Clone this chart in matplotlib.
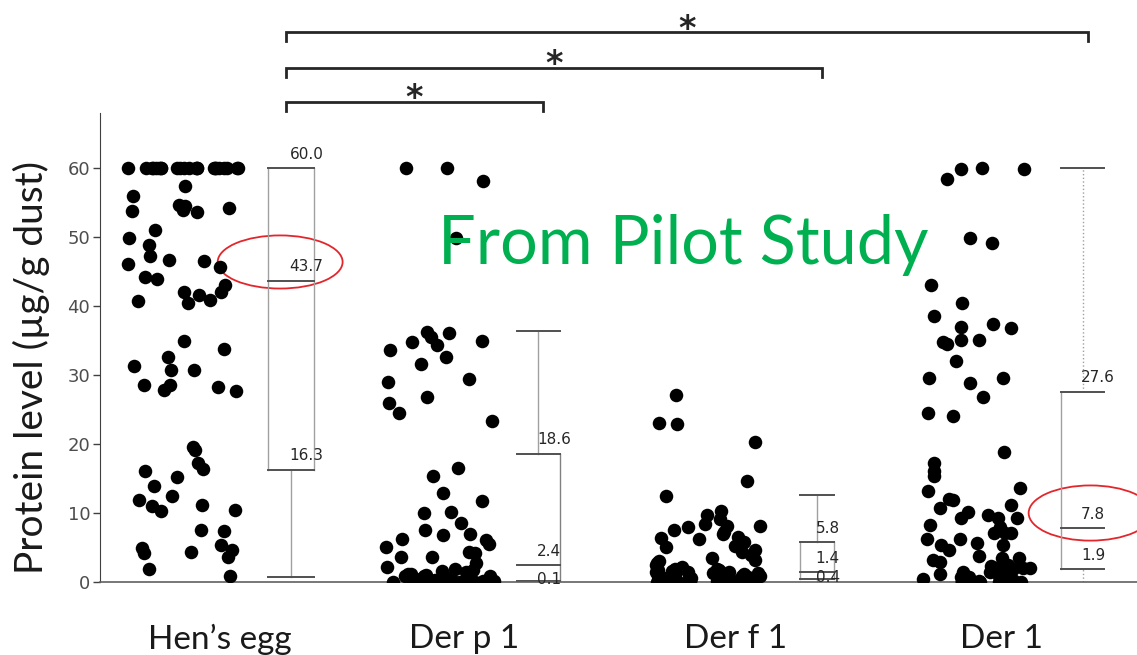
import numpy as np
import matplotlib
matplotlib.use("Agg")
import matplotlib.pyplot as plt
from matplotlib.patches import Ellipse

# ---- data ----
categories = ["Hen\u2019s egg", "Der p 1", "Der f 1", "Der 1"]

hens_egg = [60, 60, 60, 60, 60, 60, 60, 60, 60, 60, 60, 60, 60, 60, 60, 60, 60, 60, 60, 60, 60, 60, 60,
            56.0, 53.8, 57.4, 54.7, 54.2, 53.6, 54.5, 53.9, 51.1, 49.9, 48.8, 46.6, 47.2, 46.7, 46.1,
            45.7, 44.2, 44.0, 43.1, 42.0, 42.0, 41.6, 40.9, 40.7, 40.4, 35.0, 33.8, 32.6, 30.7, 31.3,
            30.7, 27.9, 28.5, 28.3, 28.5, 27.7, 19.6, 19.2, 17.2, 16.4, 16.1, 15.2, 13.9, 12.5, 11.9,
            10.4, 11.0, 11.1, 10.3, 7.4, 7.6, 4.9, 5.3, 4.7, 3.6, 4.3, 4.2, 1.9, 0.8]
der_p1 = [60.0, 60.0, 58.1, 49.9, 36.1, 36.2, 35.5, 34.8, 33.6, 35.0, 34.3, 32.6, 31.6, 29.4, 29.0,
          26.8, 25.9, 24.5, 23.4, 16.5, 15.3, 12.9, 11.7, 10.0, 10.2, 8.6, 7.5, 6.8, 7.0, 6.1, 6.2,
          5.5, 5.1, 4.4, 4.2, 3.6, 3.6, 2.8,
          2.2, 1.9, 1.7, 1.6, 1.5, 1.2, 1.1, 1.0, 0.9, 0.8, 0.8, 0.6, 0.5, 0.4, 0.3, 0.3, 0.2, 0.2, 0.2,
          0.1, 0.1, 0.1, 0.1, 0.1, 0, 0, 0, 0, 0, 0, 0, 0, 0, 0, 0, 0, 0, 0]
der_f1 = [27.1, 23.0, 22.9, 20.3, 14.6, 12.5, 10.3, 9.7, 9.1, 8.1, 8.0, 8.1, 8.4, 6.9, 7.2, 7.5,
          6.4, 6.2, 6.5, 5.8,
          5.2, 5.1, 4.6, 4.3, 3.9, 3.5, 3.2, 3.0, 2.8, 2.5, 2.2, 2.0, 1.9, 1.9, 1.8, 1.7, 1.6, 1.5,
          1.5, 1.4,
          1.3, 1.3, 1.2, 1.1, 1.0, 1.0, 0.9, 0.9, 0.8, 0.8, 0.7, 0.7, 0.6, 0.6, 0.6, 0.5, 0.5, 0.5,
          0.4, 0.4,
          0.3, 0.3, 0.2, 0.2, 0.2, 0.1, 0.1, 0.1, 0.1, 0, 0, 0, 0, 0, 0, 0, 0, 0, 0, 0]
der_1 = [60.0, 59.9, 59.9, 58.5, 49.9, 49.1, 43.0, 40.4, 38.6, 37.4, 36.8, 36.9, 35.1, 35.1, 34.8,
         34.5, 32.0, 28.8, 29.6, 29.6, 26.8, 24.1, 24.5, 18.8, 17.3, 16.1, 15.4, 13.2, 13.6, 12.0,
         11.9, 11.2, 9.7, 10.7, 10.1, 9.3, 9.3, 9.3, 8.3, 8.0,
         7.1, 7.1, 7.1, 6.2, 6.2, 5.7, 5.4, 5.4, 4.6, 3.8, 3.5, 3.5, 3.2, 2.9, 2.5, 2.3, 2.2, 2.1,
         2.0, 1.9,
         1.7, 1.5, 1.4, 1.2, 1.0, 0.9, 0.8, 0.7, 0.7, 0.5, 0.4, 0.3, 0.2, 0.1, 0, 0, 0, 0, 0, 0]
groups = [hens_egg, der_p1, der_f1, der_1]

# box summary as printed on the chart
q1 = [16.3, 0.1, 0.4, 1.9]
median = [43.7, 2.4, 1.4, 7.8]
q3 = [60.0, 18.6, 5.8, 27.6]
whisker_lo = [0.7, 0.0, 0.0, 0.0]
whisker_hi = [60.0, 36.4, 12.6, 60.0]

# significance brackets (group index pairs)
brackets = [(0, 1), (0, 2), (0, 3)]
bracket_y = [69.6, 74.5, 79.7]

# ---- layout / style ----
dot_x = [0.0, 0.98, 2.0, 3.01]
box_x = [0.41, 1.35, 2.41, 3.42]
box_half = [0.088, 0.082, 0.063, 0.082]
box_sides = [("l", "r"), ("r",), ("l", "r"), ("l",)]
whisker_ls = ["-", "-", "-", ":"]
dark = "#505050"
light = "#a0a0a0"

fig = plt.figure(figsize=(11.37, 6.55), dpi=100)
ax = fig.add_axes([100 / 1137, 73 / 655, 1037 / 1137, 469 / 655])
ax.set_xlim(-0.316, 3.627)
ax.set_ylim(0, 68)

rng = np.random.default_rng(7)
for i, vals in enumerate(groups):
    jit = rng.uniform(-0.21, 0.21, len(vals))
    ax.scatter(dot_x[i] + jit, vals, s=95, color="black", linewidths=0, zorder=3)

for i in range(4):
    x, h = box_x[i], box_half[i]
    # whiskers
    if whisker_hi[i] > q3[i]:
        ax.plot([x, x], [q3[i], whisker_hi[i]], color=light, lw=1, ls=whisker_ls[i])
        ax.plot([x - h, x + h], [whisker_hi[i]] * 2, color=dark, lw=1.4)
    if q1[i] > whisker_lo[i]:
        ax.plot([x, x], [whisker_lo[i], q1[i]], color=light, lw=1, ls=whisker_ls[i])
        if whisker_lo[i] > 0:
            ax.plot([x - h, x + h], [whisker_lo[i]] * 2, color=dark, lw=1.4)
    # box
    for s in box_sides[i]:
        xs = x - h if s == "l" else x + h
        ax.plot([xs, xs], [q1[i], q3[i]], color=light if i != 1 else "#808080", lw=1)
    for v in (q1[i], median[i], q3[i]):
        ax.plot([x - h, x + h], [v, v], color=dark, lw=1.4)
    # value labels
    for k, v in enumerate((q1[i], median[i], q3[i])):
        ty = v + 2.0
        if k == 0 and median[i] - q1[i] < 2.5:
            ty = v + 0.2
        ax.text(x - 0.005, ty, f"{v:.1f}", ha="left", va="center", fontsize=11,
                color="#262626", family="DejaVu Sans", zorder=4)

# brackets with asterisks
for (a, b), y in zip(brackets, bracket_y):
    xa, xb = box_x[a] - 0.02, box_x[b] + 0.02
    ax.plot([xa, xa, xb, xb], [y - 1.3, y, y, y - 1.3], color="#262626", lw=2,
            clip_on=False, solid_joinstyle="miter")
    ax.text((xa + xb) / 2, y - 0.9, "*", ha="center", va="baseline", fontsize=24,
            fontweight="bold", color="#262626", clip_on=False)

# red highlight ellipses
ax.add_patch(Ellipse((0.369, 46.4), 0.475, 7.7, fill=False, edgecolor="#e3262c", lw=1.3,
                     clip_on=False))
ax.add_patch(Ellipse((3.45, 10.0), 0.47, 8.0, fill=False, edgecolor="#e3262c", lw=1.3,
                     clip_on=False))

ax.text(1.90, 48.8, "From Pilot Study", ha="center", va="center", fontsize=48,
        color="#00b050", family="Lato")

for s in ("top", "right"):
    ax.spines[s].set_visible(False)
ax.spines["left"].set_color("#404040")
ax.spines["bottom"].set_color("#606060")
ax.spines["bottom"].set_linewidth(1.2)

ax.set_yticks([0, 10, 20, 30, 40, 50, 60])
ax.tick_params(axis="y", length=5, width=1, color="#404040", labelsize=13,
               labelcolor="#4d4d4d", pad=2)
ax.set_xticks([0.14, 1.07, 2.10, 3.11])
ax.set_xticklabels(categories, fontsize=24, family="Lato", color="#1a1a1a")
ax.tick_params(axis="x", length=0, pad=30)

fig.text(31 / 1137, 1 - 367 / 655, "Protein level (\u00b5g/g dust)", rotation=90,
         ha="center", va="center", fontsize=28, family="Lato", color="#1a1a1a")

fig.savefig("out.png", dpi=100)
